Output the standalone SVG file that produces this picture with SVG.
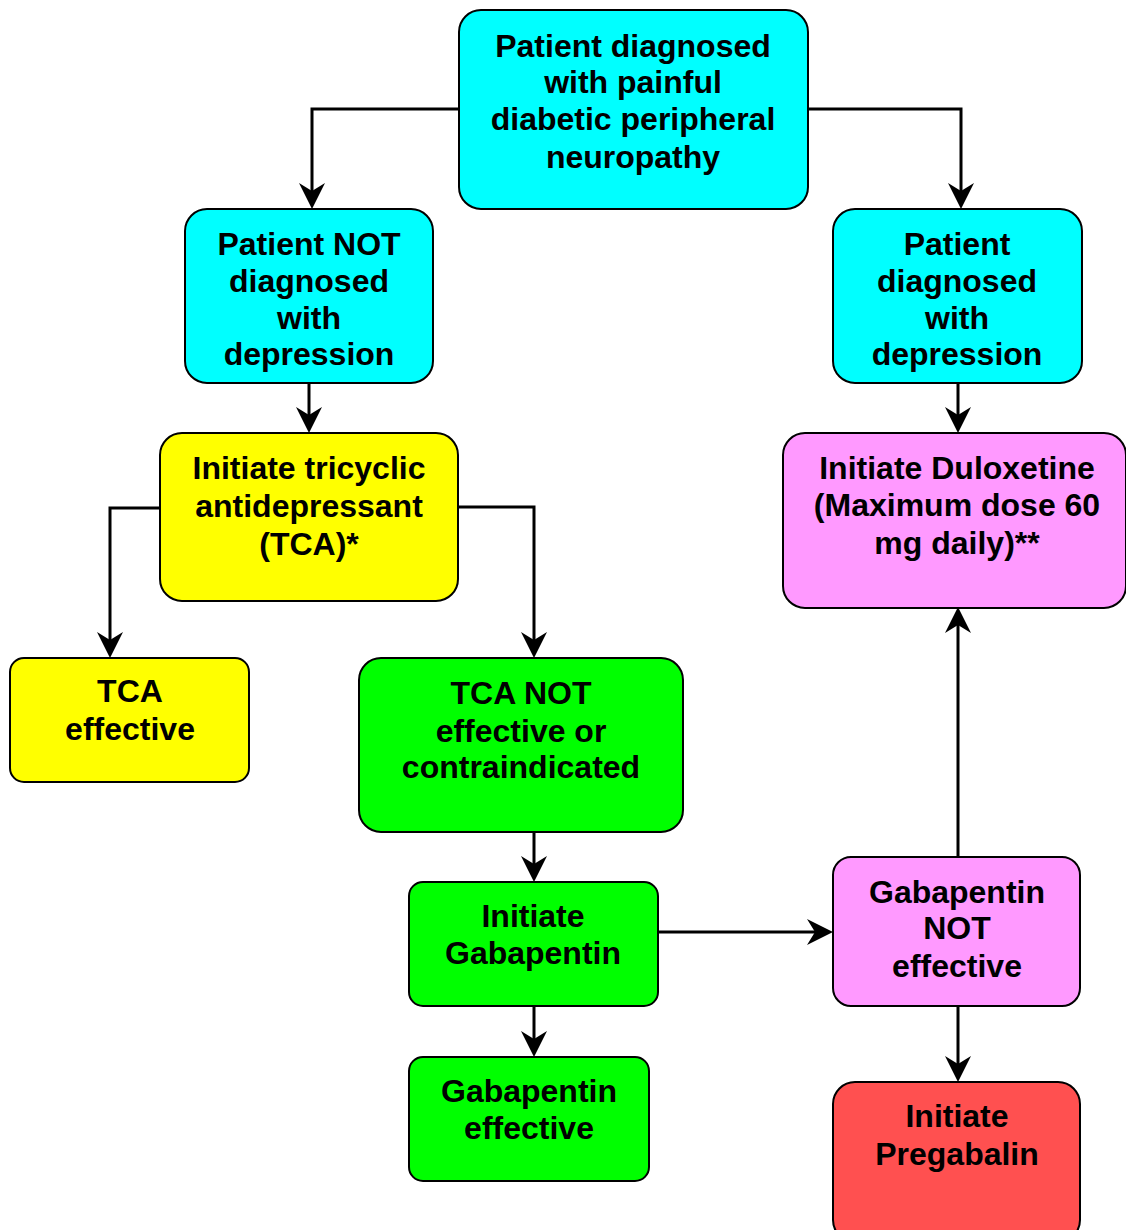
<svg xmlns="http://www.w3.org/2000/svg" width="1126" height="1230" viewBox="0 0 1126 1230">
<defs>
<marker id="arr" markerUnits="userSpaceOnUse" markerWidth="26" markerHeight="26" viewBox="0 0 26 26" refX="18" refY="13" orient="auto">
<path d="M0,0 L26,13 L0,26 L8,13 Z" fill="#000"/>
</marker>
<style>
.box{stroke:#000;stroke-width:2}
.cyan{fill:#00FFFF}.yellow{fill:#FFFF00}.green{fill:#00FF00}.pink{fill:#FF99FF}.red{fill:#FF5050}
text{font-family:"Liberation Sans",Arial,sans-serif;font-weight:bold;font-size:32px;text-anchor:middle;fill:#000}
.conn path{fill:none;stroke:#000;stroke-width:3;marker-end:url(#arr)}
</style>
</defs>
<rect width="1126" height="1230" fill="#fff"/>
<g class="conn">
<path d="M459,109 H312 V201"/>
<path d="M808,109 H961 V201"/>
<path d="M309,383 V425"/>
<path d="M958,383 V425"/>
<path d="M160,508 H110 V650"/>
<path d="M458,507 H534 V650"/>
<path d="M534,832 V874"/>
<path d="M534,1006 V1049"/>
<path d="M658,932 H825"/>
<path d="M958,857 V615"/>
<path d="M958,1006 V1074"/>
</g>
<g id="n1"><rect class="box cyan" x="459" y="10" width="349" height="199" rx="22"/>
<text x="633" y="57">Patient diagnosed</text><text x="633" y="93">with painful</text><text x="633" y="130">diabetic peripheral</text><text x="633" y="168">neuropathy</text></g>
<g id="n2"><rect class="box cyan" x="185" y="209" width="248" height="174" rx="22"/>
<text x="309" y="255">Patient NOT</text><text x="309" y="292">diagnosed</text><text x="309" y="329">with</text><text x="309" y="365">depression</text></g>
<g id="n3"><rect class="box cyan" x="833" y="209" width="249" height="174" rx="22"/>
<text x="957" y="255">Patient</text><text x="957" y="292">diagnosed</text><text x="957" y="329">with</text><text x="957" y="365">depression</text></g>
<g id="n4"><rect class="box yellow" x="160" y="433" width="298" height="168" rx="22"/>
<text x="309" y="479">Initiate tricyclic</text><text x="309" y="517">antidepressant</text><text x="309" y="555">(TCA)*</text></g>
<g id="n5"><rect class="box pink" x="783" y="433" width="343" height="175" rx="22"/>
<text x="957" y="479">Initiate Duloxetine</text><text x="957" y="516">(Maximum dose 60</text><text x="957" y="554">mg daily)**</text></g>
<g id="n6"><rect class="box yellow" x="10" y="658" width="239" height="124" rx="14"/>
<text x="130" y="702">TCA</text><text x="130" y="740">effective</text></g>
<g id="n7"><rect class="box green" x="359" y="658" width="324" height="174" rx="22"/>
<text x="521" y="704">TCA NOT</text><text x="521" y="742">effective or</text><text x="521" y="778">contraindicated</text></g>
<g id="n8"><rect class="box green" x="409" y="882" width="249" height="124" rx="14"/>
<text x="533" y="927">Initiate</text><text x="533" y="964">Gabapentin</text></g>
<g id="n9"><rect class="box green" x="409" y="1057" width="240" height="124" rx="14"/>
<text x="529" y="1102">Gabapentin</text><text x="529" y="1139">effective</text></g>
<g id="n10"><rect class="box pink" x="833" y="857" width="247" height="149" rx="18"/>
<text x="957" y="903">Gabapentin</text><text x="957" y="939">NOT</text><text x="957" y="977">effective</text></g>
<g id="n11"><rect class="box red" x="833" y="1082" width="247" height="160" rx="22"/>
<text x="957" y="1127">Initiate</text><text x="957" y="1165">Pregabalin</text></g>
</svg>
